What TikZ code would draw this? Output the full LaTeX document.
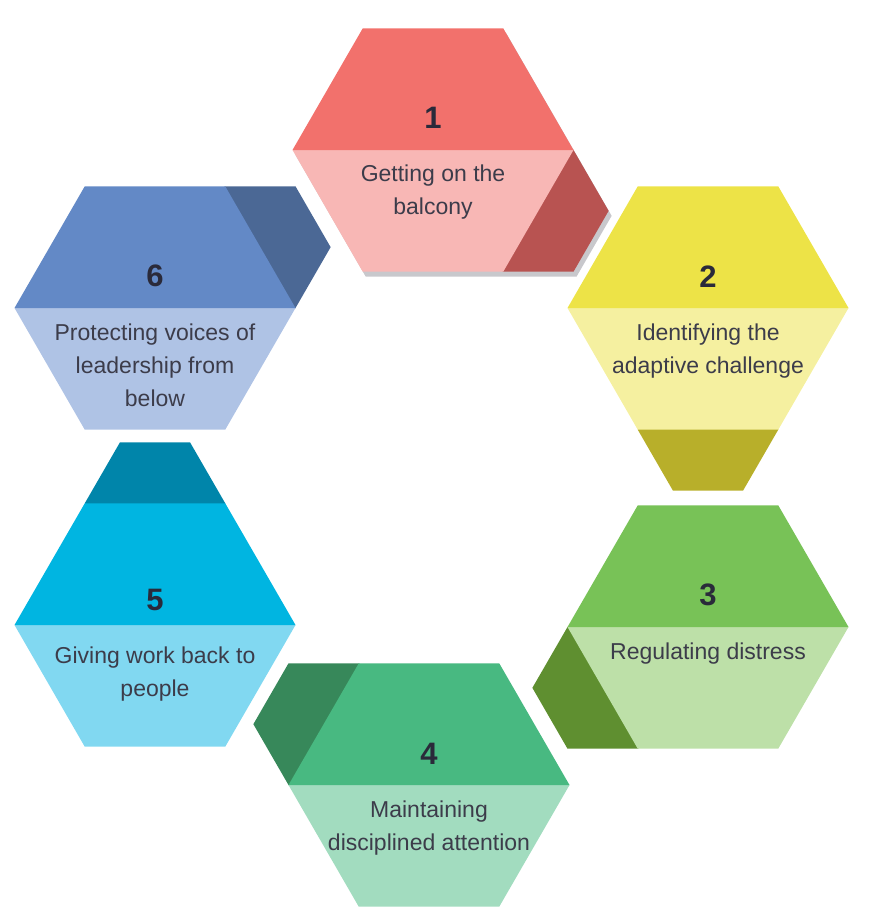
\documentclass[tikz,border=0pt]{standalone}
\usepackage{fontspec}
\setmainfont{Liberation Sans}
\definecolor{aTop}{HTML}{F2716C}\definecolor{aBot}{HTML}{F8B7B5}\definecolor{aTab}{HTML}{B85351}
\definecolor{bTop}{HTML}{EDE347}\definecolor{bBot}{HTML}{F5F0A0}\definecolor{bTab}{HTML}{B8AF2A}
\definecolor{cTop}{HTML}{78C257}\definecolor{cBot}{HTML}{BDE0A8}\definecolor{cTab}{HTML}{5F8F30}
\definecolor{dTop}{HTML}{48B981}\definecolor{dBot}{HTML}{A2DCBF}\definecolor{dTab}{HTML}{37885A}
\definecolor{eTop}{HTML}{00B5E1}\definecolor{eBot}{HTML}{81D8F1}\definecolor{eTab}{HTML}{0085AA}
\definecolor{fTop}{HTML}{6389C6}\definecolor{fBot}{HTML}{AFC3E5}\definecolor{fTab}{HTML}{4B6895}
\definecolor{shadowcol}{HTML}{C8C8CC}
\definecolor{numcol}{HTML}{2A2A3A}
\definecolor{txtcol}{HTML}{3C3C4A}
\def\hexs{140.5}
\def\hexh{121.68}
\newcommand{\hexcell}[6]{%
  \begin{scope}[shift={(#1,#2)}]
    \fill[#6, rotate=#3] (-0.5*\hexs,\hexh-2) -- (-0.5*\hexs,\hexh) -- (-0.25*\hexs,1.5*\hexh)
      -- (0.25*\hexs,1.5*\hexh) -- (0.5*\hexs,\hexh) -- (0.5*\hexs,\hexh-2) -- cycle;
    \fill[#5] (-\hexs,0) -- (-0.5*\hexs,\hexh) -- (0.5*\hexs,\hexh) -- (\hexs,0) -- cycle;
    \fill[#4] (-\hexs,0) -- (-0.5*\hexs,-\hexh) -- (0.5*\hexs,-\hexh) -- (\hexs,0) -- cycle;
  \end{scope}}
\tikzset{
  numlbl/.style={font=\bfseries\fontsize{31}{31}\selectfont, text=numcol, inner sep=0pt, anchor=base},
  txtlbl/.style={font=\fontsize{23}{33}\selectfont, text=txtcol, inner sep=0pt, anchor=base}
}
\begin{document}
\begin{tikzpicture}[x=1pt,y=-1pt]
\useasboundingbox (0,0) rectangle (896,918);
% shadow of hexagon 1
\begin{scope}[shift={(436,155)}]
  \fill[shadowcol] (-\hexs,0) -- (-0.5*\hexs,-\hexh) -- (0.5*\hexs,-\hexh) -- (\hexs,0)
    -- (1.25*\hexs,0.5*\hexh) -- (\hexs,\hexh) -- (-0.5*\hexs,\hexh) -- cycle;
\end{scope}
\hexcell{433}{150}{60}{aTop}{aBot}{aTab}
\hexcell{708}{308}{0}{bTop}{bBot}{bTab}
\hexcell{708}{627}{-60}{cTop}{cBot}{cTab}
\hexcell{429}{785}{-120}{dTop}{dBot}{dTab}
\hexcell{155}{625}{180}{eTop}{eBot}{eTab}
\hexcell{155}{308}{120}{fTop}{fBot}{fTab}
% numbers
\node[numlbl] (n1) at (433,128) {1};
\node[numlbl] (n2) at (708,287) {2};
\node[numlbl] (n3) at (708,605) {3};
\node[numlbl] (n4) at (429,764) {4};
\node[numlbl] (n5) at (155,610) {5};
\node[numlbl] (n6) at (155,286) {6};
% texts
\node[txtlbl] (t1a) at (433,181) {Getting on the};
\node[txtlbl] (t1b) at (433,214) {balcony};
\node[txtlbl] (t2a) at (708,340) {Identifying the};
\node[txtlbl] (t2b) at (708,373) {adaptive challenge};
\node[txtlbl] (t3a) at (708,659) {Regulating distress};
\node[txtlbl] (t4a) at (429,817) {Maintaining};
\node[txtlbl] (t4b) at (429,850) {disciplined attention};
\node[txtlbl] (t5a) at (155,663) {Giving work back to};
\node[txtlbl] (t5b) at (155,696) {people};
\node[txtlbl] (t6a) at (155,340) {Protecting voices of};
\node[txtlbl] (t6b) at (155,373) {leadership from};
\node[txtlbl] (t6c) at (155,406) {below};
\end{tikzpicture}
\end{document}
